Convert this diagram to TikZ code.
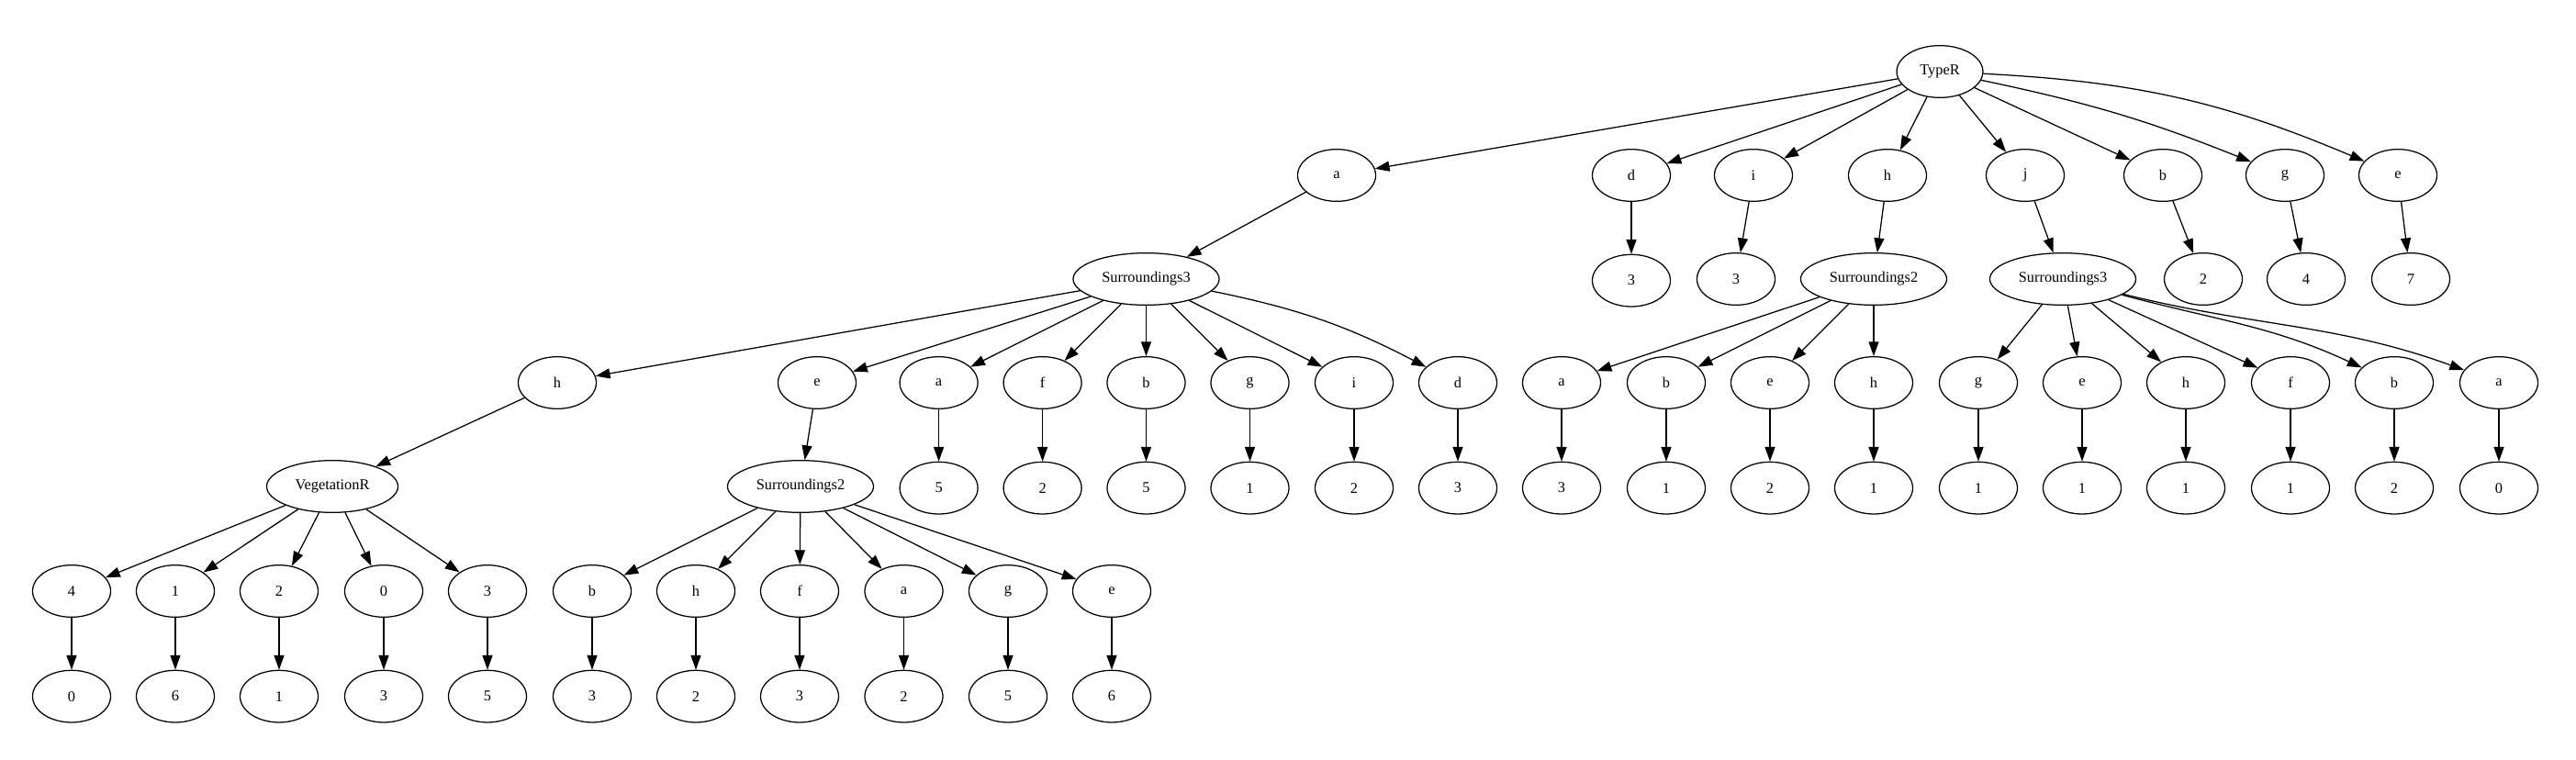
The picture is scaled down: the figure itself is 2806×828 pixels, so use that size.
\documentclass[tikz,border=0pt]{standalone}
\usepackage{fontspec}
\setmainfont{Liberation Serif}
\usetikzlibrary{arrows.meta,positioning,shapes.geometric}

\begin{document}
\begin{tikzpicture}[
  x=0.635pt, y=0.635pt,
  font=\fontsize{10.4}{12}\selectfont,
  nd/.style={draw, ellipse, line width=0.8pt, minimum width=54pt, minimum height=36pt, inner sep=0pt},
  wide/.style={nd, minimum width=#1},
  arr/.style={-{Triangle[length=10pt, width=7pt]}, line width=0.8pt}]
  \useasboundingbox (0,0) rectangle (2806,-828);
  \node[wide=59.6pt] (root) at (2113,-78) {TypeR};
  % first level
  \node[nd] (ra) at (1456,-191) {a};
  \node[nd] (rd) at (1777,-191) {d};
  \node[nd] (ri) at (1910,-191) {i};
  \node[nd] (rh) at (2056,-191) {h};
  \node[nd] (rj) at (2206,-191) {j};
  \node[nd] (rb) at (2356,-191) {b};
  \node[nd] (rg) at (2489,-191) {g};
  \node[nd] (re) at (2612,-191) {e};
  % second level
  \node[wide=101pt] (s3) at (1248.5,-304) {Surroundings3};
  \node[nd, below=36pt of rd] (rd3) {3};
  \node[nd] (ri3) at (1891,-304) {3};
  \node[wide=101pt] (s2) at (2041,-304) {Surroundings2};
  \node[wide=101pt] (t3) at (2247,-304) {Surroundings3};
  \node[nd] (rb2) at (2400,-304) {2};
  \node[nd] (rg4) at (2512,-304) {4};
  \node[nd] (re7) at (2626,-304) {7};
  % children of Surroundings3 (left)
  \node[nd] (s3h) at (607,-417) {h};
  \node[nd] (s3e) at (890,-417) {e};
  \node[nd] (s3a) at (1022.6,-417) {a};
  \node[nd] (s3f) at (1135.6,-417) {f};
  \node[nd] (s3b) at (1248.5,-417) {b};
  \node[nd] (s3g) at (1361.5,-417) {g};
  \node[nd] (s3i) at (1475,-417) {i};
  \node[nd] (s3d) at (1588,-417) {d};
  \node[wide=90.8pt] (veg) at (362,-530) {VegetationR};
  \node[wide=101pt] (s2l) at (872,-530) {Surroundings2};
  \node[nd, below=36pt of s3a] (s3a5) {5};
  \node[nd, below=36pt of s3f] (s3f2) {2};
  \node[nd, below=36pt of s3b] (s3b5) {5};
  \node[nd, below=36pt of s3g] (s3g1) {1};
  \node[nd, below=36pt of s3i] (s3i2) {2};
  \node[nd, below=36pt of s3d] (s3d3) {3};
  % children of Surroundings2 (right)
  \node[nd] (s2a) at (1701,-417) {a};
  \node[nd] (s2b) at (1815,-417) {b};
  \node[nd] (s2e) at (1928,-417) {e};
  \node[nd] (s2h) at (2041,-417) {h};
  \node[nd, below=36pt of s2a] (s2a3) {3};
  \node[nd, below=36pt of s2b] (s2b1) {1};
  \node[nd, below=36pt of s2e] (s2e2) {2};
  \node[nd, below=36pt of s2h] (s2h1) {1};
  % children of Surroundings3 (right)
  \node[nd] (t3g) at (2155,-417) {g};
  \node[nd] (t3e) at (2268,-417) {e};
  \node[nd] (t3h) at (2381,-417) {h};
  \node[nd] (t3f) at (2495,-417) {f};
  \node[nd] (t3b) at (2608,-417) {b};
  \node[nd] (t3a) at (2722,-417) {a};
  \node[nd, below=36pt of t3g] (t3g1) {1};
  \node[nd, below=36pt of t3e] (t3e1) {1};
  \node[nd, below=36pt of t3h] (t3h1) {1};
  \node[nd, below=36pt of t3f] (t3f1) {1};
  \node[nd, below=36pt of t3b] (t3b2) {2};
  \node[nd, below=36pt of t3a] (t3a0) {0};
  % children of VegetationR
  \node[nd] (v4) at (78,-644) {4};
  \node[nd] (v1) at (191,-644) {1};
  \node[nd] (v2) at (304,-644) {2};
  \node[nd] (v0) at (418,-644) {0};
  \node[nd] (v3) at (531,-644) {3};
  \node[nd, below=36pt of v4] (v4x) {0};
  \node[nd, below=36pt of v1] (v1x) {6};
  \node[nd, below=36pt of v2] (v2x) {1};
  \node[nd, below=36pt of v0] (v0x) {3};
  \node[nd, below=36pt of v3] (v3x) {5};
  % children of Surroundings2 (left)
  \node[nd] (l2b) at (645,-644) {b};
  \node[nd] (l2h) at (758,-644) {h};
  \node[nd] (l2f) at (871,-644) {f};
  \node[nd] (l2a) at (984.5,-644) {a};
  \node[nd] (l2g) at (1098,-644) {g};
  \node[nd] (l2e) at (1211,-644) {e};
  \node[nd, below=36pt of l2b] (l2b3) {3};
  \node[nd, below=36pt of l2h] (l2h2) {2};
  \node[nd, below=36pt of l2f] (l2f3) {3};
  \node[nd, below=36pt of l2a] (l2a2) {2};
  \node[nd, below=36pt of l2g] (l2g5) {5};
  \node[nd, below=36pt of l2e] (l2e6) {6};
  % edges
  \draw[arr] (root) -- (ra);
  \draw[arr] (root) -- (rd);
  \draw[arr] (root) -- (ri);
  \draw[arr] (root) -- (rh);
  \draw[arr] (root) -- (rj);
  \draw[arr] (root) -- (rb);
  \draw[arr] (root) to[bend left=5] (rg);
  \draw[arr] (root) to[bend left=10] (re);
  \draw[arr] (ra) -- (s3);
  \draw[arr] (rd) -- (rd3);
  \draw[arr] (ri) -- (ri3);
  \draw[arr] (rh) -- (s2);
  \draw[arr] (rj) -- (t3);
  \draw[arr] (rb) -- (rb2);
  \draw[arr] (rg) -- (rg4);
  \draw[arr] (re) -- (re7);
  \draw[arr] (s3) -- (s3h);
  \draw[arr] (s3) -- (s3e);
  \draw[arr] (s3) -- (s3a);
  \draw[arr] (s3) -- (s3f);
  \draw[arr] (s3) -- (s3b);
  \draw[arr] (s3) -- (s3g);
  \draw[arr] (s3) -- (s3i);
  \draw[arr] (s3) to[bend left=8] (s3d);
  \draw[arr] (s3h) -- (veg);
  \draw[arr] (s3e) -- (s2l);
  \draw[arr] (s3a) -- (s3a5);
  \draw[arr] (s3f) -- (s3f2);
  \draw[arr] (s3b) -- (s3b5);
  \draw[arr] (s3g) -- (s3g1);
  \draw[arr] (s3i) -- (s3i2);
  \draw[arr] (s3d) -- (s3d3);
  \draw[arr] (s2) -- (s2a);
  \draw[arr] (s2) -- (s2b);
  \draw[arr] (s2) -- (s2e);
  \draw[arr] (s2) -- (s2h);
  \draw[arr] (s2a) -- (s2a3);
  \draw[arr] (s2b) -- (s2b1);
  \draw[arr] (s2e) -- (s2e2);
  \draw[arr] (s2h) -- (s2h1);
  \draw[arr] (t3) -- (t3g);
  \draw[arr] (t3) -- (t3e);
  \draw[arr] (t3) -- (t3h);
  \draw[arr] (t3) -- (t3f);
  \draw[arr] (t3) to[out=-15, in=155] (t3b);
  \draw[arr] (t3) to[out=-14, in=160] (t3a);
  \draw[arr] (t3g) -- (t3g1);
  \draw[arr] (t3e) -- (t3e1);
  \draw[arr] (t3h) -- (t3h1);
  \draw[arr] (t3f) -- (t3f1);
  \draw[arr] (t3b) -- (t3b2);
  \draw[arr] (t3a) -- (t3a0);
  \draw[arr] (veg) -- (v4);
  \draw[arr] (veg) -- (v1);
  \draw[arr] (veg) -- (v2);
  \draw[arr] (veg) -- (v0);
  \draw[arr] (veg) -- (v3);
  \draw[arr] (v4) -- (v4x);
  \draw[arr] (v1) -- (v1x);
  \draw[arr] (v2) -- (v2x);
  \draw[arr] (v0) -- (v0x);
  \draw[arr] (v3) -- (v3x);
  \draw[arr] (s2l) -- (l2b);
  \draw[arr] (s2l) -- (l2h);
  \draw[arr] (s2l) -- (l2f);
  \draw[arr] (s2l) -- (l2a);
  \draw[arr] (s2l) -- (l2g);
  \draw[arr] (s2l) -- (l2e);
  \draw[arr] (l2b) -- (l2b3);
  \draw[arr] (l2h) -- (l2h2);
  \draw[arr] (l2f) -- (l2f3);
  \draw[arr] (l2a) -- (l2a2);
  \draw[arr] (l2g) -- (l2g5);
  \draw[arr] (l2e) -- (l2e6);
\end{tikzpicture}
\end{document}
